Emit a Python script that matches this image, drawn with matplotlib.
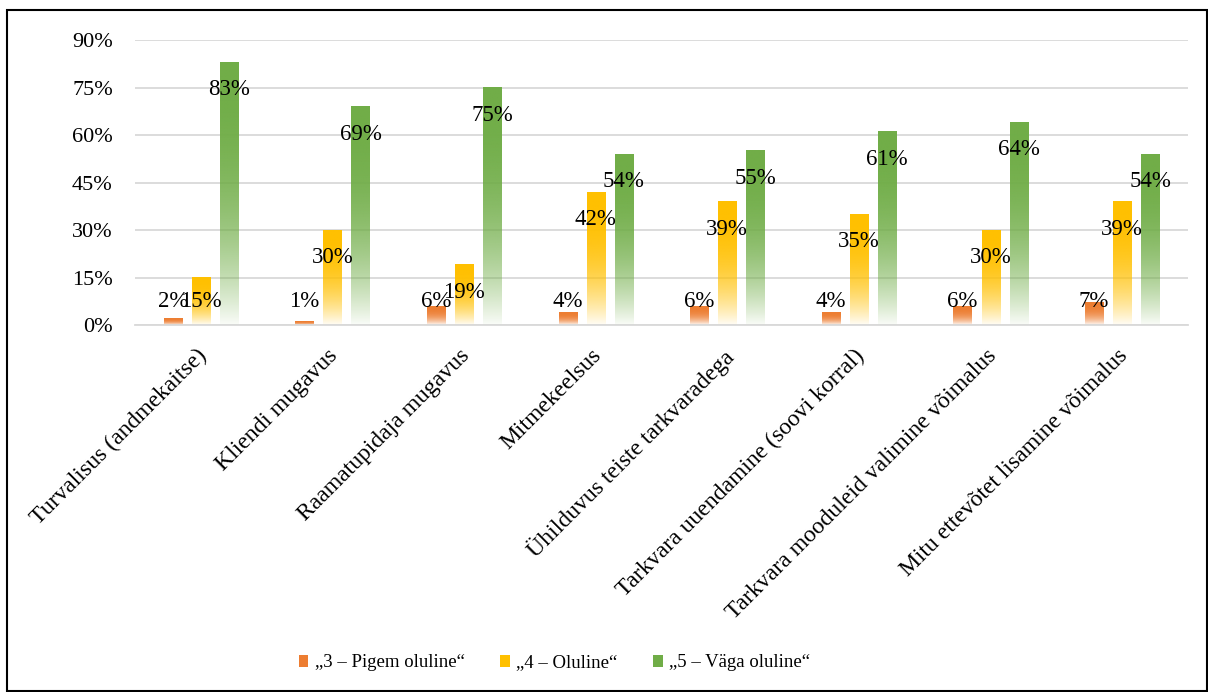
import matplotlib
matplotlib.use('Agg')
import matplotlib.pyplot as plt
import matplotlib.transforms as mtransforms
import numpy as np
from matplotlib.colors import to_rgb
from matplotlib.patches import Rectangle, Patch

categories = ['Turvalisus (andmekaitse)', 'Kliendi mugavus', 'Raamatupidaja mugavus',
              'Mitmekeelsus', 'Ühilduvus teiste tarkvaradega',
              'Tarkvara uuendamine (soovi korral)', 'Tarkvara mooduleid valimine võimalus',
              'Mitu ettevõtet lisamine võimalus']
pigem = [2, 1, 6, 4, 6, 4, 6, 7]
oluline = [15, 30, 19, 42, 39, 35, 30, 39]
vaga = [83, 69, 75, 54, 55, 61, 64, 54]
series_names = ['„3 – Pigem oluline“', '„4 – Oluline“', '„5 – Väga oluline“']
colors = ['#ED7D31', '#FFC000', '#70AD47']

plt.rcParams['font.family'] = ['Liberation Serif', 'DejaVu Serif']

fig = plt.figure(figsize=(12.08, 6.92), dpi=100)
ax = fig.add_axes([0.1118, 0.5303, 0.9834 - 0.1118, 0.942 - 0.5303])


def grad_bar(ax, x, w, h, color):
    # colour at the top, fading to white towards the bottom
    n = 200
    t = np.linspace(0, 1, n)[:, None]
    alpha = 1 - (1 - t) ** 2.5
    rgb = np.array(to_rgb(color))
    img = np.ones((n, 1, 4))
    img[:, :, :3] = rgb
    img[:, :, 3] = 0.04 + 0.96 * alpha
    ax.imshow(img, extent=[x - w / 2, x + w / 2, 0, h], origin='lower',
              aspect='auto', interpolation='bilinear', zorder=2)


x = np.arange(len(categories))
width = 0.137
offs = [-0.213, 0, 0.213]
for vals, off, c in zip([pigem, oluline, vaga], offs, colors):
    for xi, v in zip(x, vals):
        grad_bar(ax, xi + off, width, v, c)
        ly = max(v - 8.7, 7.3)
        ax.text(xi + off, ly, f'{v}%', ha='center', va='center', fontsize=16.5, zorder=3)

ax.set_xlim(-0.5, len(categories) - 0.5)
ax.set_ylim(0, 90)
ax.set_yticks(np.arange(0, 91, 15))
ax.set_yticklabels([f'{v}%' for v in range(0, 91, 15)], fontsize=16)
ax.set_xticks(x)
ax.set_xticklabels(categories, rotation=45, ha='right', va='top',
                   rotation_mode='anchor', fontsize=17)
ax.tick_params(length=0)
ax.tick_params(axis='y', pad=16)
ax.tick_params(axis='x', pad=6)
shift = mtransforms.ScaledTranslation(-5 / 100, -12 / 100, fig.dpi_scale_trans)
for lbl in ax.get_xticklabels():
    lbl.set_transform(lbl.get_transform() + shift)
ax.grid(axis='y', color='#d9d9d9', linewidth=1.3, zorder=0)
ax.set_axisbelow(True)
for s in ['top', 'right', 'left']:
    ax.spines[s].set_visible(False)
ax.spines['bottom'].set_color('#d9d9d9')
ax.spines['bottom'].set_linewidth(1.3)

handles = [Patch(facecolor=c) for c in colors]
fig.legend(handles, series_names, loc='center', bbox_to_anchor=(0.459, 0.042), ncol=3,
           frameon=False, fontsize=13.5, handlelength=0.5, handleheight=0.6,
           handletextpad=0.35, columnspacing=1.9)

fig.patches.append(Rectangle((0.006, 0.001), 0.993, 0.985, transform=fig.transFigure,
                             fill=False, edgecolor='black', linewidth=1.5))

fig.savefig('out.png', dpi=100)
